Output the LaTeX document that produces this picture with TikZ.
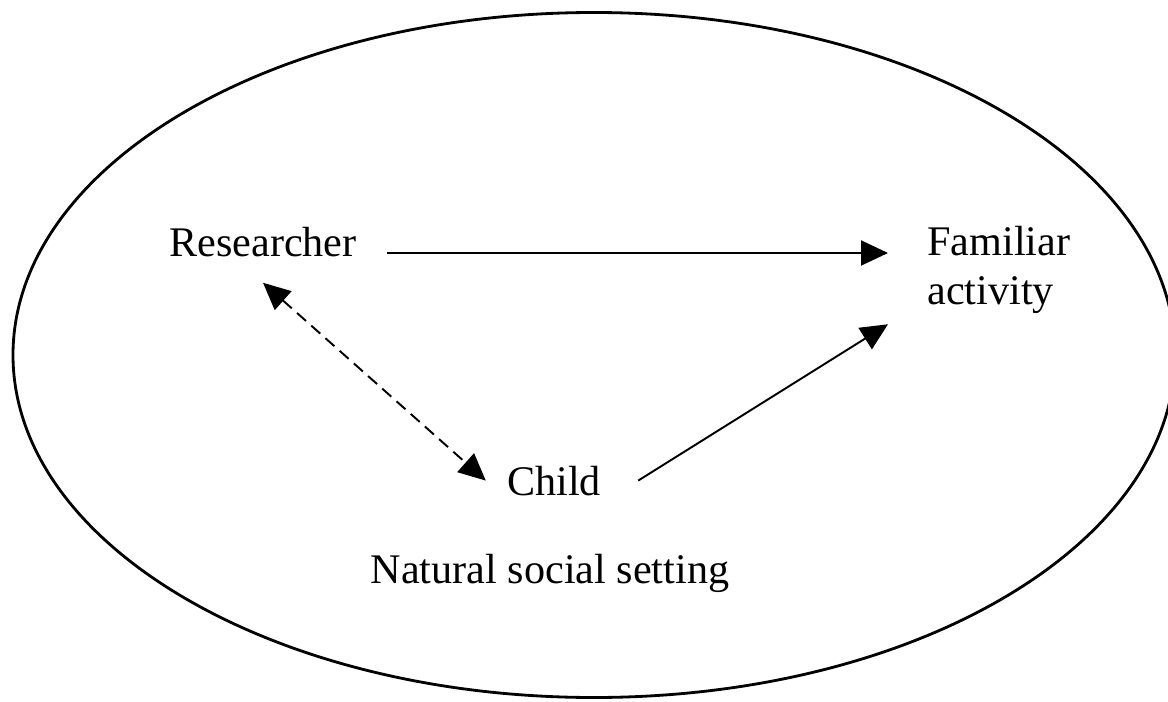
\documentclass[tikz,border=0pt]{standalone}
\usepackage{fontspec}
\setmainfont{Liberation Serif}
\usepackage{tikz}
\usetikzlibrary{arrows.meta,
                calc,
                positioning}

\tikzset{
  label text/.style={inner sep=0pt, font=\fontsize{24}{28}\selectfont},
  solid arrow/.style={line width=1.1pt, -{Triangle[length=0.54cm,width=0.5cm]}},
  dashed arrow/.style={line width=1.1pt, dash pattern=on 0.24cm off 0.14cm,
                       {Triangle[length=0.54cm,width=0.5cm]}-{Triangle[length=0.54cm,width=0.5cm]}}
}

\begin{document}
\begin{tikzpicture}
\useasboundingbox (0,0) rectangle (23.36,14.02);
\clip (0,0) rectangle (23.36,14.02);
\draw[line width=1.6pt] (11.88,6.92) ellipse [x radius=11.62, y radius=6.85];
\node[label text, anchor=base] (researcher) at (5.26,8.88) {Researcher};
\node[label text, anchor=north west, align=left] (activity) at (18.54,9.50) {Familiar\\activity};
\node[label text, anchor=base] (child) at (11.08,4.12) {Child};
\node[label text, anchor=base] (setting) at (11.0,2.36) {Natural social setting};
\draw[solid arrow] ([xshift=0.6cm,yshift=0.08cm]researcher.base east) -- ([xshift=-0.78cm,yshift=0.08cm]activity.west |- researcher.base east);
\draw[solid arrow] ([xshift=0.74cm]child.east) -- ([xshift=-0.78cm,yshift=-0.2cm]activity.south west);
\draw[dashed arrow] ([yshift=-0.5cm]researcher.south) -- ([xshift=-0.42cm]child.west);
\end{tikzpicture}
\end{document}
